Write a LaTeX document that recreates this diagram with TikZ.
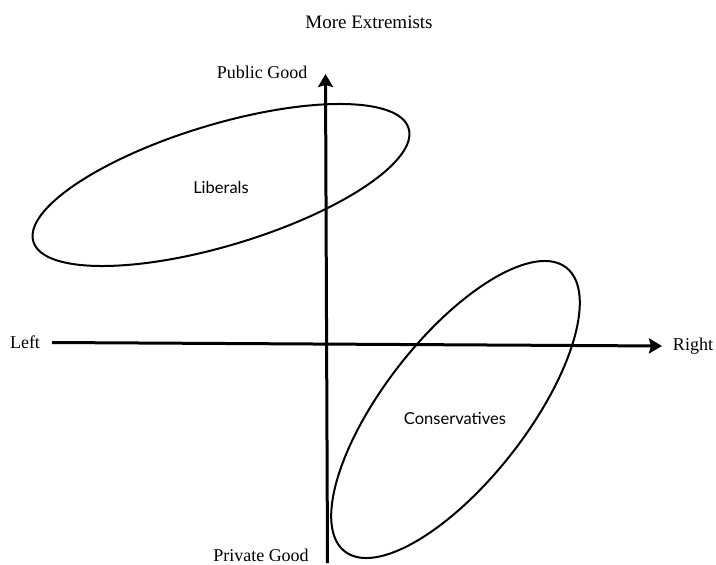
\documentclass[tikz,border=0pt]{standalone}
\usepackage{fontspec}
\setmainfont{Liberation Serif}
\newfontfamily\gillfont{Lato}
\usetikzlibrary{arrows.meta}
\begin{document}
\begin{tikzpicture}[x=1pt,y=-1pt,
  axisline/.style={line width=3pt,-{Stealth[length=13pt,width=15pt,inset=2pt]}},
  blob/.style={line width=2pt},
  serifl/.style={font=\fontsize{18}{20}\selectfont, inner sep=0pt},
  titlel/.style={font=\fontsize{19}{21}\selectfont, inner sep=0pt},
  sansl/.style={font=\gillfont\fontsize{16.5}{18}\selectfont, inner sep=0pt}]
\useasboundingbox (0,0) rectangle (716,565);
\draw[blob, rotate around={16.8:(221,185)}] (221,185) ellipse [x radius=196pt, y radius=60.5pt];
\draw[blob, rotate around={52:(455.5,409.5)}] (455.5,409.5) ellipse [x radius=180pt, y radius=71.4pt];
\coordinate (vb) at (327.5,563);
\coordinate (vt) at (325.5,74);
\coordinate (hl) at (52,342.5);
\coordinate (hr) at (662,346);
\draw[axisline] (vb) -- (vt);
\draw[axisline] (hl) -- (hr);
\node[titlel] (title) at (369,22) {More Extremists};
\node[serifl] (pub) at (262,72) {Public Good};
\node[serifl] (priv) at (261,555) {Private Good};
\node[serifl] (left) at (25,342) {Left};
\node[serifl] (right) at (693,346) {Right};
\node[sansl] (lib) at (221,187) {Liberals};
\node[sansl] (con) at (455,419) {Conservatives};
\end{tikzpicture}
\end{document}
